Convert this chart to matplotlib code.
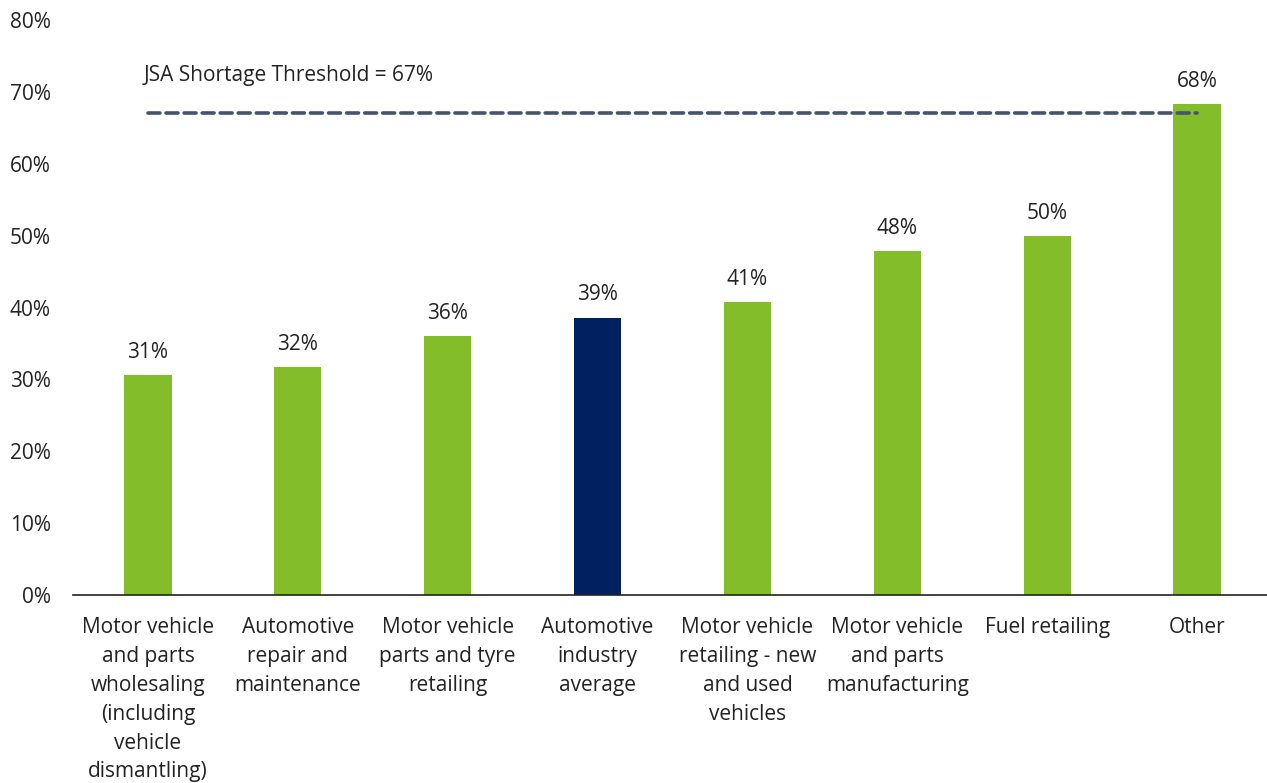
import numpy as np
import matplotlib.pyplot as plt
from matplotlib.ticker import PercentFormatter

categories = [
    "Motor vehicle\nand parts\nwholesaling\n(including\nvehicle\ndismantling)",
    "Automotive\nrepair and\nmaintenance",
    "Motor vehicle\nparts and tyre\nretailing",
    "Automotive\nindustry\naverage",
    "Motor vehicle\nretailing - new\nand used\nvehicles",
    "Motor vehicle\nand parts\nmanufacturing",
    "Fuel retailing",
    "Other",
]
values = [30.6, 31.7, 36.0, 38.6, 40.8, 47.8, 49.9, 68.3]
labels = ["31%", "32%", "36%", "39%", "41%", "48%", "50%", "68%"]
threshold = 67
highlight = "Automotive\nindustry\naverage"

GREEN = "#84BD2A"
NAVY = "#002060"
DASH = "#44546A"
TEXT = "#222222"

plt.rcParams["font.family"] = ["Open Sans", "DejaVu Sans"]
plt.rcParams["font.size"] = 15

fig = plt.figure(figsize=(12.67, 7.83), dpi=100)
ax = fig.add_axes([73 / 1267, 1 - 595 / 783, 1199 / 1267, 575 / 783])

x = np.arange(len(categories))
colors = [NAVY if c == highlight else GREEN for c in categories]
ax.bar(x, values, width=0.315, color=colors, zorder=2)

for xi, v, lab in zip(x, values, labels):
    ax.text(xi, v + 1.7, lab, ha="center", va="bottom", color=TEXT)

ax.plot([x[0], x[-1]], [threshold, threshold], linestyle=(0, (3.3, 1.7)),
        color=DASH, linewidth=2.6, zorder=3, dash_capstyle="round")
ax.text(x[0] - 0.03, threshold + 5.3, "JSA Shortage Threshold = 67%",
        ha="left", va="center", color=TEXT)

ax.set_xlim(-0.5, 7.5)
ax.set_ylim(0, 80)
ax.set_yticks(np.arange(0, 81, 10))
ax.yaxis.set_major_formatter(PercentFormatter(decimals=0))
ax.set_xticks(x)
ax.set_xticklabels(categories, linespacing=1.49)
ax.tick_params(axis="both", length=0, labelsize=15, colors=TEXT)
ax.tick_params(axis="x", pad=16)
ax.tick_params(axis="y", pad=16)

for s in ["top", "right", "left"]:
    ax.spines[s].set_visible(False)
ax.spines["bottom"].set_color("#222222")
ax.spines["bottom"].set_linewidth(1.2)

fig.savefig("out.png", dpi=100)
